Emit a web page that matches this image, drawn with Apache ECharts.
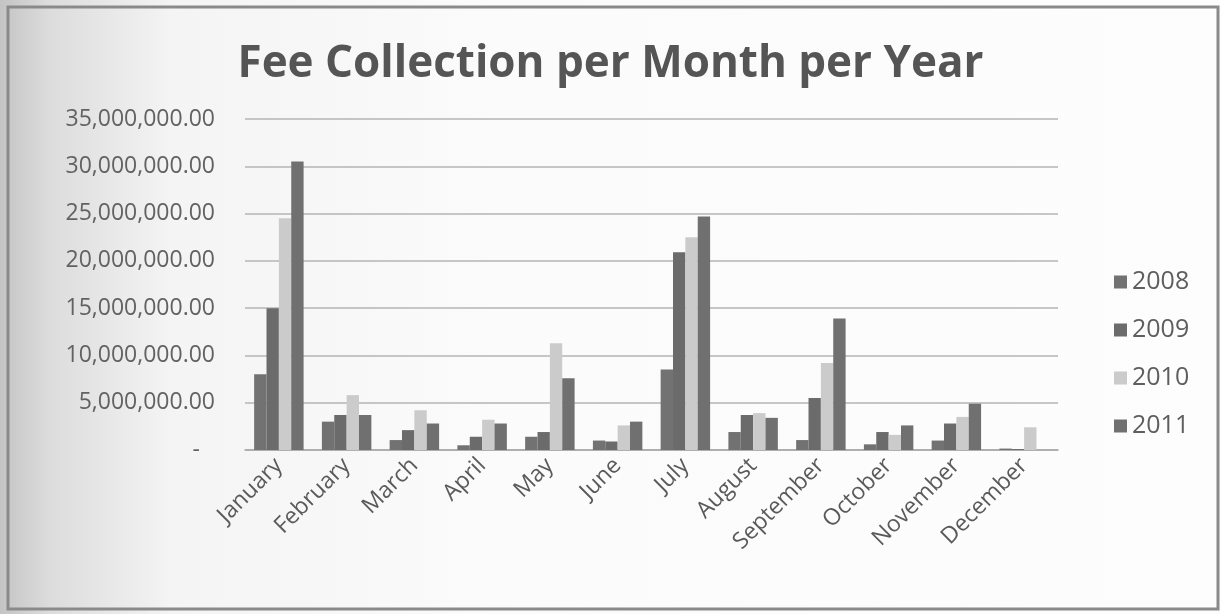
<!DOCTYPE html>
<html>
<head>
<meta charset="utf-8">
<title>Fee Collection per Month per Year</title>
<script src="https://cdn.jsdelivr.net/npm/echarts@6/dist/echarts.min.js"></script>
<style>
  html, body { margin: 0; padding: 0; background: #ffffff; }
  #chart { width: 1221px; height: 614px; }
</style>
</head>
<body>
<div id="chart"></div>
<script>
// Month categories along the x axis
const months = ['January', 'February', 'March', 'April', 'May', 'June',
  'July', 'August', 'September', 'October', 'November', 'December'];

// Fees collected per month, one array per year
const fees2008 = [8000000, 3000000, 1050000, 500000, 1400000, 1000000,
  8500000, 1900000, 1050000, 600000, 1000000, 150000];
const fees2009 = [15000000, 3700000, 2100000, 1400000, 1900000, 900000,
  20900000, 3700000, 5500000, 1900000, 2800000, 100000];
const fees2010 = [24500000, 5800000, 4200000, 3200000, 11300000, 2600000,
  22500000, 3900000, 9200000, 1600000, 3500000, 2400000];
const fees2011 = [30500000, 3700000, 2800000, 2800000, 7600000, 3000000,
  24700000, 3400000, 13900000, 2600000, 4900000, 0];

const years = ['2008', '2009', '2010', '2011'];
const yearColors = ['#727272', '#6b6b6b', '#cbcbcb', '#707070'];

// Value axis ticks
const yMin = 0;
const yMax = 35000000;
const yStep = 5000000;

const FONT = 'Open Sans';

// Accounting-style label: zero shows as a dash; a blank spacer keeps
// the figures clear of the plot area
function moneyLabel(v) {
  if (v === 0) return '{dash|-}';
  const txt = v.toLocaleString('en-US', { minimumFractionDigits: 2, maximumFractionDigits: 2 });
  return '{num|' + txt + '}{sp| }';
}

const chart = echarts.init(document.getElementById('chart'), null, { renderer: 'canvas' });

const seriesData = [fees2008, fees2009, fees2010, fees2011];

chart.setOption({
  backgroundColor: {
    type: 'linear', x: 0, y: 0, x2: 1, y2: 0,
    colorStops: [
      { offset: 0, color: '#c4c4c4' },
      { offset: 0.04, color: '#dcdcdc' },
      { offset: 0.14, color: '#f4f4f4' },
      { offset: 0.4, color: '#fbfbfb' },
      { offset: 1, color: '#fdfdfd' }
    ]
  },
  animation: false,
  textStyle: { fontFamily: FONT },
  graphic: [
    {
      type: 'rect',
      shape: { x: 8, y: 7, width: 1210, height: 602 },
      style: { fill: 'none', stroke: '#8a8a8a', lineWidth: 3 },
      silent: true,
      z: 100
    }
  ],
  title: {
    text: 'Fee Collection per Month per Year',
    left: 'center',
    top: 37,
    textStyle: {
      fontFamily: FONT,
      fontWeight: 'bold',
      fontSize: 44,
      color: '#555555'
    }
  },
  legend: {
    orient: 'vertical',
    left: 1109,
    top: 264,
    itemWidth: 13,
    itemHeight: 13,
    itemGap: 22,
    icon: 'rect',
    data: years,
    textStyle: { fontFamily: FONT, fontSize: 25, color: '#5e5e5e', lineHeight: 26 }
  },
  grid: {
    left: 245,
    right: 163,
    top: 119,
    bottom: 164,
    outerBoundsMode: 'none'
  },
  xAxis: {
    type: 'category',
    data: months,
    axisTick: { show: false },
    axisLine: { lineStyle: { color: '#a8a8a8', width: 1.5 } },
    axisLabel: {
      rotate: 45,
      interval: 0,
      margin: 12,
      fontFamily: FONT,
      fontSize: 23,
      color: '#5a5a5a'
    }
  },
  yAxis: {
    type: 'value',
    min: yMin,
    max: yMax,
    interval: yStep,
    axisLine: { show: false },
    axisTick: { show: false },
    splitLine: { lineStyle: { color: '#b4b4b4', width: 1.5 } },
    axisLabel: {
      formatter: moneyLabel,
      fontFamily: FONT,
      fontSize: 23,
      color: '#626262',
      margin: 2,
      rich: {
        num: { fontFamily: FONT, fontSize: 23, color: '#626262' },
        sp: { fontFamily: FONT, fontSize: 23, width: 28 },
        dash: { fontFamily: FONT, fontSize: 23, color: '#626262', padding: [0, 43, 0, 0] }
      }
    }
  },
  series: years.map((y, i) => ({
    name: y,
    type: 'bar',
    data: seriesData[i],
    itemStyle: { color: yearColors[i] },
    barGap: '0%',
    barCategoryGap: '27%'
  }))
});
</script>
</body>
</html>
